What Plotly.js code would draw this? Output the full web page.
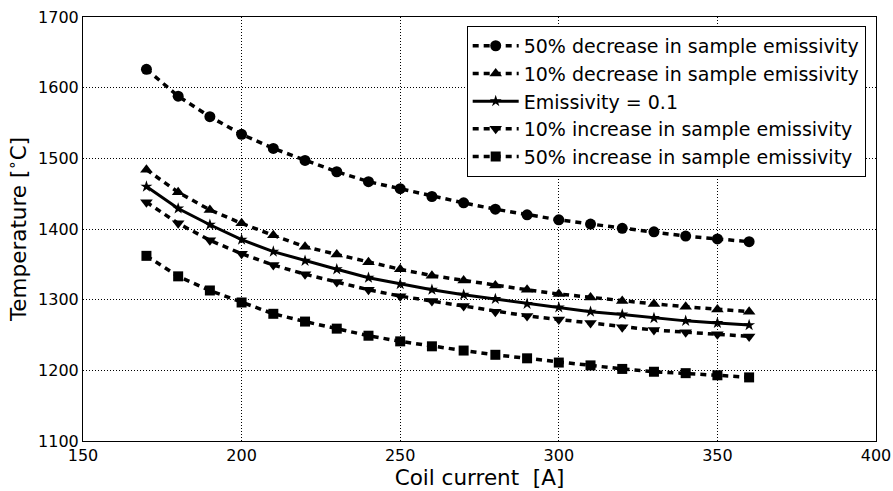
<!DOCTYPE html>
<html>
<head>
<meta charset="utf-8">
<script src="https://cdn.plot.ly/plotly-3.0.1.min.js"></script>
<style>html,body{margin:0;padding:0;background:#fff;}#chart{width:893px;height:491px;}</style>
</head>
<body>
<div id="chart"></div>
<script>
const coilCurrent = [170,180,190,200,210,220,230,240,250,260,270,280,290,300,310,320,330,340,350,360];
const dec50 = [1626,1588,1559,1534,1514,1497,1481,1467,1457,1446,1437,1428,1420,1413,1407,1401,1396,1390,1386,1382];
const dec10 = [1484,1452,1427,1408,1391,1375,1364,1353,1343,1334,1327,1320,1314,1308,1303,1298,1294,1290,1286,1283];
const base  = [1460,1429,1406,1385,1368,1355,1343,1331,1322,1314,1307,1301,1294,1289,1283,1279,1274,1270,1267,1264];
const inc10 = [1438,1408,1384,1365,1349,1336,1325,1314,1305,1298,1291,1283,1277,1272,1267,1261,1257,1254,1251,1248];
const inc50 = [1362,1333,1313,1296,1280,1269,1259,1249,1241,1234,1228,1222,1217,1211,1207,1202,1198,1196,1193,1190];
const seriesNames = ["50% decrease in sample emissivity","10% decrease in sample emissivity","Emissivity = 0.1","10% increase in sample emissivity","50% increase in sample emissivity"];

const dashPat = "6px,5px";
function tr(y, name, symbol, size, dash, g) {
  return {
    x: coilCurrent, y: y, name: name, type: 'scatter', mode: 'lines+markers',
    legendgroup: g,
    line: {color: '#000', width: 3.5, dash: dash},
    marker: {symbol: symbol, size: size, color: '#000', line: {width: 0}}
  };
}
const data = [
  tr(dec50, seriesNames[0], 'circle', 11, dashPat, 'a'),
  tr(dec10, seriesNames[1], 'triangle-up', 11, dashPat, 'b'),
  tr(base,  seriesNames[2], 'star', 9, 'solid', 'c'),
  tr(inc10, seriesNames[3], 'triangle-down', 11, dashPat, 'd'),
  tr(inc50, seriesNames[4], 'square', 10, dashPat, 'e')
];
data[2].line.width = 3;

const font = 'DejaVu Sans, sans-serif';
const layout = {
  width: 893, height: 491,
  margin: {l: 83, r: 17, t: 17, b: 50},
  paper_bgcolor: '#fff', plot_bgcolor: '#fff',
  font: {family: font, color: '#000', size: 16},
  showlegend: true,
  legend: {
    x: 0.987, xanchor: 'right', y: 0.979, yanchor: 'top',
    bgcolor: '#fff', bordercolor: '#000', borderwidth: 1,
    font: {family: font, size: 19, color: '#000'},
    traceorder: 'grouped', tracegroupgap: 0, itemwidth: 46
  },
  xaxis: {
    range: [150, 400], dtick: 50, tick0: 150,
    showgrid: true, gridcolor: '#000', gridwidth: 1, griddash: '1px,2px',
    showline: true, linecolor: '#000', linewidth: 1, mirror: true,
    zeroline: false, ticks: '', automargin: false,
    tickfont: {family: font, size: 16, color: '#000'},
    title: {text: 'Coil current\u00a0 [A]', font: {family: font, size: 21.5, color: '#000'}, standoff: 4}
  },
  yaxis: {
    range: [1100, 1700], dtick: 100, tick0: 1100,
    showgrid: true, gridcolor: '#000', gridwidth: 1, griddash: '1px,2px',
    showline: true, linecolor: '#000', linewidth: 1, mirror: true,
    zeroline: false, ticks: '', automargin: false,
    tickfont: {family: font, size: 16, color: '#000'},
    title: {text: 'Temperature [<sup>\u2218</sup>C]', font: {family: font, size: 21.5, color: '#000'}, standoff: 5}
  }
};
Plotly.newPlot('chart', data, layout, {displayModeBar: false, staticPlot: true});
</script>
</body>
</html>
